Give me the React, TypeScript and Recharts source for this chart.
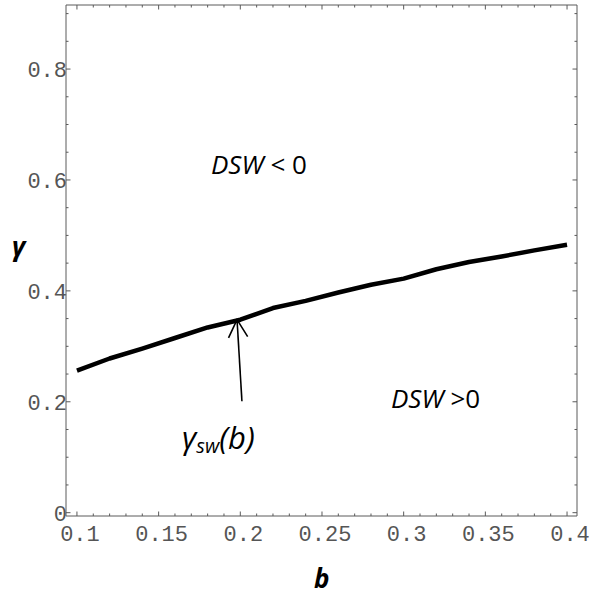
import React from "react";
import { LineChart, Line, XAxis, YAxis, ReferenceLine } from "recharts";

// curve gamma_sw(b)
const bValues = [0.1, 0.12, 0.14, 0.16, 0.18, 0.2, 0.22, 0.24, 0.26, 0.28, 0.3, 0.32, 0.34, 0.36, 0.38, 0.4];
const gammaValues = [0.256, 0.278, 0.296, 0.315, 0.334, 0.348, 0.369, 0.382, 0.397, 0.411, 0.422, 0.439, 0.452, 0.462, 0.473, 0.483];

// frame ticks
const xMinorTicks = [
  0.1, 0.11, 0.12, 0.13, 0.14, 0.15, 0.16, 0.17, 0.18, 0.19, 0.2, 0.21, 0.22, 0.23, 0.24, 0.25,
  0.26, 0.27, 0.28, 0.29, 0.3, 0.31, 0.32, 0.33, 0.34, 0.35, 0.36, 0.37, 0.38, 0.39, 0.4,
];
const xMajorTicks = [0.1, 0.15, 0.2, 0.25, 0.3, 0.35, 0.4];
const xTickLabels = ["0.1", "0.15", "0.2", "0.25", "0.3", "0.35", "0.4"];
const yMinorTicks = [0, 0.05, 0.1, 0.15, 0.2, 0.25, 0.3, 0.35, 0.4, 0.45, 0.5, 0.55, 0.6, 0.65, 0.7, 0.75, 0.8, 0.85, 0.9];
const yMajorTicks = [0, 0.2, 0.4, 0.6, 0.8];
const yTickLabels = ["0", "0.2", "0.4", "0.6", "0.8"];

const data = bValues.map((b, i) => ({ b, gamma: gammaValues[i] }));

const FRAME = "#5a5a5a";
const LABEL = "#555";
const MONO = "'Liberation Mono', 'DejaVu Sans Mono', monospace";
const SANS = "'Open Sans', 'Noto Sans', sans-serif";

const majorIndex = (list: number[], v: number) => list.findIndex((m) => Math.abs(m - v) < 1e-6);

function BottomTick(props: any) {
  const { x, y, payload } = props;
  const i = majorIndex(xMajorTicks, payload.value);
  const len = i >= 0 ? 4.5 : 2.5;
  return (
    <g>
      <line x1={x} x2={x} y1={y} y2={y - len} stroke={FRAME} strokeWidth={1} />
      {i >= 0 && (
        <text x={x + 3} y={y + 25} textAnchor="middle" fontFamily={MONO} fontSize={22} fill={LABEL}>
          {xTickLabels[i]}
        </text>
      )}
    </g>
  );
}

function TopTick(props: any) {
  const { x, y, payload } = props;
  const len = majorIndex(xMajorTicks, payload.value) >= 0 ? 4.5 : 2.5;
  return <line x1={x} x2={x} y1={y} y2={y + len} stroke={FRAME} strokeWidth={1} />;
}

function LeftTick(props: any) {
  const { x, y, payload } = props;
  const i = majorIndex(yMajorTicks, payload.value);
  const len = i >= 0 ? 4.5 : 2.5;
  return (
    <g>
      <line x1={x} x2={x + len} y1={y} y2={y} stroke={FRAME} strokeWidth={1} />
      {i >= 0 && (
        <text x={x + 1} y={y + 8} textAnchor="end" fontFamily={MONO} fontSize={22} fill={LABEL}>
          {yTickLabels[i]}
        </text>
      )}
    </g>
  );
}

function RightTick(props: any) {
  const { x, y, payload } = props;
  const len = majorIndex(yMajorTicks, payload.value) >= 0 ? 4.5 : 2.5;
  return <line x1={x} x2={x - len} y1={y} y2={y} stroke={FRAME} strokeWidth={1} />;
}

function Arrow(props: any) {
  const { x1, y1, x2, y2 } = props;
  const ang = Math.atan2(y2 - y1, x2 - x1);
  const head = 20;
  const spread = 0.5;
  const ax = x2 - head * Math.cos(ang - spread);
  const ay = y2 - head * Math.sin(ang - spread);
  const bx = x2 - head * Math.cos(ang + spread);
  const by = y2 - head * Math.sin(ang + spread);
  return (
    <g stroke="#000" strokeWidth={1.6} fill="none">
      <line x1={x1} y1={y1} x2={x2} y2={y2} />
      <polyline points={`${ax},${ay} ${x2},${y2} ${bx},${by}`} />
    </g>
  );
}

export default function App() {
  return (
    <div style={{ position: "absolute", left: 0, top: 0, width: 594, height: 599, background: "#fff" }}>
      <LineChart width={594} height={599} data={data} margin={{ top: 4, right: 16, bottom: 0, left: 0 }}>
        <XAxis
          xAxisId="bottom"
          dataKey="b"
          type="number"
          domain={[0.0933, 0.4061]}
          allowDataOverflow
          ticks={xMinorTicks}
          interval={0}
          height={83}
          tickSize={0}
          tickMargin={0}
          tickLine={false}
          axisLine={{ stroke: FRAME }}
          tick={(p: any) => <BottomTick {...p} />}
        />
        <XAxis
          xAxisId="top"
          orientation="top"
          dataKey="b"
          type="number"
          domain={[0.0933, 0.4061]}
          allowDataOverflow
          ticks={xMinorTicks}
          interval={0}
          height={1}
          tickSize={0}
          tickMargin={0}
          tickLine={false}
          axisLine={{ stroke: FRAME }}
          tick={(p: any) => <TopTick {...p} />}
        />
        <YAxis
          yAxisId="left"
          type="number"
          domain={[-0.006, 0.9155]}
          allowDataOverflow
          ticks={yMinorTicks}
          interval={0}
          width={66}
          tickSize={0}
          tickMargin={0}
          tickLine={false}
          axisLine={{ stroke: FRAME }}
          tick={(p: any) => <LeftTick {...p} />}
        />
        <YAxis
          yAxisId="right"
          orientation="right"
          type="number"
          domain={[-0.006, 0.9155]}
          allowDataOverflow
          ticks={yMinorTicks}
          interval={0}
          width={1}
          tickSize={0}
          tickMargin={0}
          tickLine={false}
          axisLine={{ stroke: FRAME }}
          tick={(p: any) => <RightTick {...p} />}
        />
        <Line
          xAxisId="bottom"
          yAxisId="left"
          dataKey="gamma"
          type="linear"
          stroke="#000"
          strokeWidth={4.5}
          strokeLinejoin="round"
          dot={false}
          isAnimationActive={false}
        />
        <ReferenceLine
          xAxisId="bottom"
          yAxisId="left"
          segment={[
            { x: 0.201, y: 0.201 },
            { x: 0.198, y: 0.348 },
          ]}
          ifOverflow="visible"
          shape={(p: any) => <Arrow {...p} />}
        />
      </LineChart>
      <svg
        width={594}
        height={599}
        style={{ position: "absolute", left: 0, top: 0, pointerEvents: "none" }}
        fontFamily={SANS}
      >
        <text x={12} y={256} fontSize={26} fontWeight="bold" fontStyle="italic" fill="#000">
          γ
        </text>
        <text x={314} y={588} fontSize={26} fontWeight="bold" fontStyle="italic" fill="#000">
          b
        </text>
        <text x={211} y={174} fontSize={26} fill="#000">
          <tspan fontStyle="italic">DSW</tspan>
          <tspan> &lt; 0</tspan>
        </text>
        <text x={391} y={408} fontSize={26} fill="#000">
          <tspan fontStyle="italic">DSW</tspan>
          <tspan> &gt;0</tspan>
        </text>
        <text x={182} y={449} fontSize={31} fontStyle="italic" fill="#000">
          <tspan>γ</tspan>
          <tspan fontSize={20} dy={4}>sw</tspan>
          <tspan dy={-4}>(b)</tspan>
        </text>
      </svg>
    </div>
  );
}
